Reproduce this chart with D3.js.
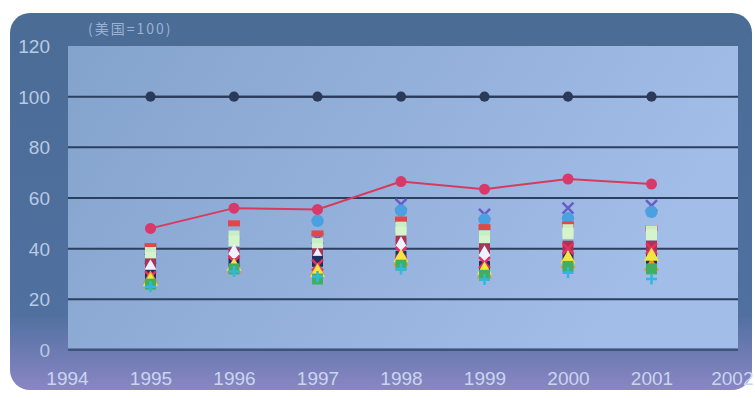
<!DOCTYPE html>
<html><head><meta charset="utf-8">
<script src="https://cdn.jsdelivr.net/npm/d3@7/dist/d3.min.js"></script>
<style>body{margin:0;background:#fff}svg{display:block}</style>
</head><body><svg id="c" width="755" height="398"></svg>
<script>
const years = [1995,1996,1997,1998,1999,2000,2001];
const xTicks = [1994,1995,1996,1997,1998,1999,2000,2001,2002];
const yTicks = [0,20,40,60,80,100,120];
const unitLabel = "(美国=100)";

const sRef    = [100,100,100,100,100,100,100];
const sRed    = [48,56,55.5,66.5,63.5,67.5,65.5];
const sX      = [36,42,44,57.5,53.5,56,57];
const sCircle = [35,44,51,55,51.5,52,54.5];
const sDash   = [41,50,46,51.5,48.5,49.5,48];
const sSquare = [36.5,43,40,46.5,43,46,45.5];
const sSquare2= [38.5,45,42,48.5,45,47.5,47];
const sMaroon = [34,38,38,43,40,41,41];
const sDiam   = [32,38,36.5,41,37.5,33.5,34.5];
const sPink   = [29,35,33.5,38.5,34.5,40,40];
const sNavy   = [29.5,34,35,37,33,36.5,36];
const sYellow = [27,33,30.5,36.5,31.5,36,37];
const sOrange = [28,32,31,35,30,34,33];
const sGreen  = [26,32,28,33.5,29.5,33,32];
const sPlus   = [25,31,29,32,27.8,30.5,28];

const scatter = [
  {v:sX, color:"#6a5cc8", shape:"x"},
  {v:sCircle, color:"#4aa0e0", shape:"circle"},
  {v:sDash, color:"#e04848", shape:"dash"},
  {v:sSquare2, color:"#c8eec4", shape:"square"},
  {v:sSquare, color:"#d6f4cc", shape:"square"},
  {v:sMaroon, color:"#a83456", shape:"square"},
  {v:sDiam, color:"#eef2ff", shape:"diamond"},
  {v:sNavy, color:"#203060", shape:"square"},
  {v:sPink, color:"#e83060", shape:"x"},
  {v:sOrange, color:"#f09030", shape:"triangle"},
  {v:sYellow, color:"#f2e640", shape:"triangle"},
  {v:sGreen, color:"#40b060", shape:"square"},
  {v:sPlus, color:"#30b8e0", shape:"plus"}
];

const svg = d3.select("#c");
const defs = svg.append("defs");
const fg = defs.append("linearGradient").attr("id","frame").attr("x1",0).attr("y1",0).attr("x2",0).attr("y2",1);
fg.append("stop").attr("offset","0").attr("stop-color","#4a6c95");
fg.append("stop").attr("offset","0.8").attr("stop-color","#5070a0");
fg.append("stop").attr("offset","1").attr("stop-color","#8a86c4");
const pg = defs.append("linearGradient").attr("id","plot").attr("x1",0).attr("y1",0).attr("x2",1).attr("y2",0.3);
pg.append("stop").attr("offset","0").attr("stop-color","#84a3cc");
pg.append("stop").attr("offset","1").attr("stop-color","#a2bde8");

svg.append("rect").attr("x",10).attr("y",13).attr("width",742).attr("height",377).attr("rx",20).attr("fill","url(#frame)");

const x = d3.scaleLinear().domain([1994,2002]).range([67,735]);
const y = d3.scaleLinear().domain([0,120]).range([350,46]);

svg.append("rect").attr("x",68).attr("y",y(120)).attr("width",670).attr("height",y(0)-y(120)-2).attr("fill","url(#plot)");

svg.append("text").attr("x",88).attr("y",34).attr("font-family","Noto Sans CJK SC, sans-serif").attr("font-size",14).attr("letter-spacing",2).attr("fill","#9ab2d4").text(unitLabel);

// gridlines
svg.append("g").selectAll("line").data(yTicks.filter(d=>d>0 && d<120)).join("line")
  .attr("x1",68).attr("x2",738).attr("y1",d=>y(d)).attr("y2",d=>y(d))
  .attr("stroke","#2b3f5e").attr("stroke-width",2);
svg.append("line").attr("x1",68).attr("x2",738).attr("y1",y(0)).attr("y2",y(0)).attr("stroke","#3c5478").attr("stroke-width",2);

// axes labels
const yAxis = d3.axisLeft(y).tickValues(yTicks).tickSize(0).tickPadding(0);
const gy = svg.append("g").attr("transform","translate(50,0)").call(yAxis);
gy.select(".domain").remove();
gy.selectAll("text").attr("font-family","Liberation Sans, Arial, sans-serif").attr("font-size",19).attr("fill","#b8cae4").attr("dy","0.35em");

const xAxis = d3.axisBottom(x).tickValues(xTicks).tickFormat(d3.format("d")).tickSize(0).tickPadding(0);
const gx = svg.append("g").attr("transform","translate(0,371)").call(xAxis);
gx.select(".domain").remove();
gx.selectAll("text").attr("font-family","Liberation Sans, Arial, sans-serif").attr("font-size",19).attr("fill","#c8d6ee").attr("dy","0.71em");
// keep the last year label inside the window
gx.selectAll(".tick").filter(d=>d===2002).select("text").attr("text-anchor","end").attr("x",18);

// markers
function drawMarker(g, cx, cy, shape, color){
  const s = 5.5;
  if(shape==="x"){
    g.append("path").attr("d",`M${cx-s},${cy-s}L${cx+s},${cy+s}M${cx-s},${cy+s}L${cx+s},${cy-s}`).attr("stroke",color).attr("stroke-width",2.5);
  } else if(shape==="plus"){
    g.append("path").attr("d",`M${cx-s},${cy}L${cx+s},${cy}M${cx},${cy-s}L${cx},${cy+s}`).attr("stroke",color).attr("stroke-width",2.5);
  } else if(shape==="dash"){
    g.append("rect").attr("x",cx-6).attr("y",cy-3).attr("width",12).attr("height",6).attr("fill",color);
  } else {
    const t = {circle:d3.symbolCircle, square:d3.symbolSquare, diamond:d3.symbolDiamond, triangle:d3.symbolTriangle}[shape];
    const size = shape==="diamond"?110: shape==="triangle"?100:120;
    g.append("path").attr("transform",`translate(${cx},${cy})`).attr("d",d3.symbol().type(t).size(size)()).attr("fill",color);
  }
}

const mg = svg.append("g");
scatter.forEach(s=>{
  s.v.forEach((v,i)=>drawMarker(mg, x(years[i]), y(v), s.shape, s.color));
});

// reference line
const line = d3.line().x((d,i)=>x(years[i])).y(d=>y(d));
svg.append("path").datum(sRef).attr("d",line).attr("fill","none").attr("stroke","#2a3a58").attr("stroke-width",2);
sRef.forEach((v,i)=>svg.append("path").attr("transform",`translate(${x(years[i])},${y(v)})`).attr("d",d3.symbol().type(d3.symbolCircle).size(80)()).attr("fill","#2a3a58"));

svg.append("path").datum(sRed).attr("d",line).attr("fill","none").attr("stroke","#d83a5e").attr("stroke-width",2);
sRed.forEach((v,i)=>svg.append("path").attr("transform",`translate(${x(years[i])},${y(v)})`).attr("d",d3.symbol().type(d3.symbolCircle).size(95)()).attr("fill","#d8386a"));
</script></body></html>
